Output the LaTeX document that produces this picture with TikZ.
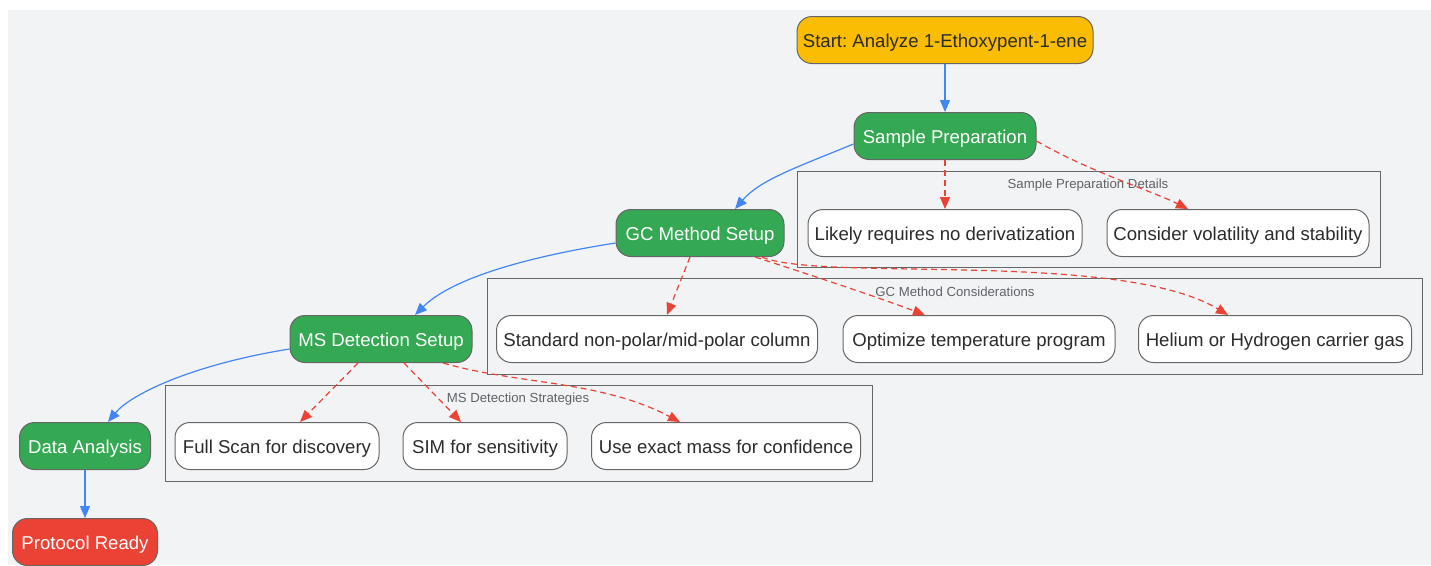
\documentclass[tikz,border=0pt]{standalone}
\usepackage{fontspec}
\setmainfont{Liberation Sans}
\usetikzlibrary{arrows.meta}
\frenchspacing
\definecolor{bgc}{HTML}{F1F3F5}
\definecolor{bluec}{HTML}{4285F4}
\definecolor{redc}{HTML}{EA4335}
\definecolor{greenc}{HTML}{34A853}
\definecolor{ambc}{HTML}{FBBC04}
\definecolor{bordc}{HTML}{666666}
\definecolor{txtc}{HTML}{2B2B2B}
\definecolor{lblc}{HTML}{5F6368}
\tikzset{
  box/.style={draw=bordc, line width=1pt, rounded corners=15pt, minimum height=47pt, inner sep=0pt, text height=15pt, text depth=0pt, font=\fontsize{18.6}{21}\selectfont},
  greenbox/.style={box, fill=greenc, text=white},
  whitebox/.style={box, fill=white, text=txtc},
  cluster/.style={draw=bordc, line width=1pt, fill=bgc},
  clabel/.style={text=lblc, font=\fontsize{13.2}{15}\selectfont, inner sep=0pt},
  solidarrow/.style={draw=bluec, line width=1.2pt, -{Triangle[length=12pt,width=10pt]}},
  dasharrow/.style={draw=redc, line width=1.2pt, dash pattern=on 6pt off 4pt, -{Triangle[length=12pt,width=10pt]}},
}
\begin{document}
\begin{tikzpicture}[x=1pt,y=-1pt]
\useasboundingbox (0,0) rectangle (1431,565);
\fill[bgc] (8,10) rectangle (1431,565);
% clusters
\draw[cluster] (797,171) rectangle (1380,267);
\node[clabel] (cl1) at (1088,185) {Sample Preparation Details};
\draw[cluster] (487,278) rectangle (1422,374);
\node[clabel] (cl2) at (955,292) {GC Method Considerations};
\draw[cluster] (165,385) rectangle (872,481);
\node[clabel] (cl3) at (518,399) {MS Detection Strategies};
% main nodes
\node[box, fill=ambc, text=txtc, minimum width=296pt] (st) at (945,40) {Start: Analyze 1-Ethoxypent-1-ene};
\node[greenbox, minimum width=182pt] (sp) at (945,136) {Sample Preparation};
\node[greenbox, minimum width=168pt] (gc) at (700,233) {GC Method Setup};
\node[greenbox, minimum width=182pt] (ms) at (381,339) {MS Detection Setup};
\node[greenbox, minimum width=131pt] (da) at (85,446) {Data Analysis};
\node[box, fill=redc, text=white, minimum width=145pt] (pr) at (85,542) {Protocol Ready};
% detail nodes
\node[whitebox, minimum width=274pt] (lk) at (945,233) {Likely requires no derivatization};
\node[whitebox, minimum width=262pt] (cv) at (1238,233) {Consider volatility and stability};
\node[whitebox, minimum width=321pt] (sn) at (657,339) {Standard non-polar/mid-polar column};
\node[whitebox, minimum width=272pt] (ot) at (979,339) {Optimize temperature program};
\node[whitebox, minimum width=273pt] (he) at (1275,339) {Helium or Hydrogen carrier gas};
\node[whitebox, minimum width=204pt] (fs) at (277,446) {Full Scan for discovery};
\node[whitebox, minimum width=164pt] (si) at (485,446) {SIM for sensitivity};
\node[whitebox, minimum width=269pt] (ue) at (726,446) {Use exact mass for confidence};
% blue edges
\draw[solidarrow] (st.south) -- (sp.north);
\draw[solidarrow] ([yshift=-8pt]sp.west) .. controls (795,168) and (760,180) .. ([xshift=35pt]gc.north);
\draw[solidarrow] ([yshift=-10pt]gc.west) .. controls (520,258) and (450,280) .. ([xshift=34pt]ms.north);
\draw[solidarrow] ([yshift=-10pt]ms.west) .. controls (190,365) and (130,395) .. ([xshift=23pt]da.north);
\draw[solidarrow] (da.south) -- (pr.north);
% red edges
\draw[dasharrow] (sp.south) -- (lk.north);
\draw[dasharrow] ([yshift=-5pt]sp.east) .. controls (1090,172) and (1150,190) .. ([xshift=-50pt]cv.north);
\draw[dasharrow] ([xshift=-10pt]gc.south) -- ([xshift=10pt]sn.north);
\draw[dasharrow] ([xshift=55pt]gc.south) .. controls (820,278) and (880,298) .. ([xshift=-54pt]ot.north);
\draw[dasharrow] ([xshift=62pt]gc.south) .. controls (820,282) and (1120,250) .. ([xshift=-47pt]he.north);
\draw[dasharrow] ([xshift=-23pt]ms.south) -- ([xshift=23pt]fs.north);
\draw[dasharrow] ([xshift=23pt]ms.south) -- ([xshift=-24pt]si.north);
\draw[dasharrow] ([xshift=62pt]ms.south) .. controls (520,385) and (600,380) .. ([xshift=-46pt]ue.north);
\end{tikzpicture}
\end{document}
